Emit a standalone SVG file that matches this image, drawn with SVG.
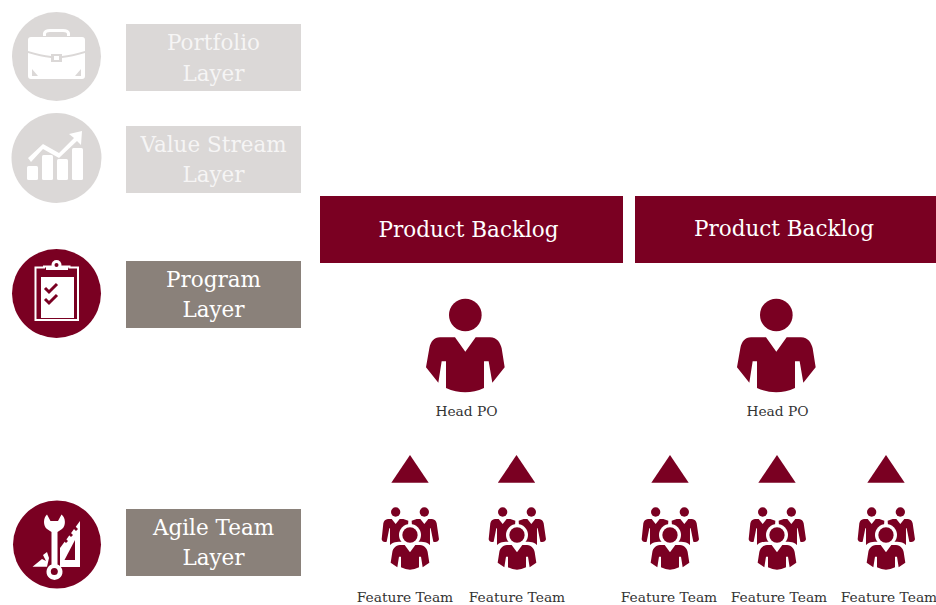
<svg xmlns="http://www.w3.org/2000/svg" width="936" height="605" viewBox="0 0 936 605">
<style>
text{font-family:"DejaVu Serif","Liberation Serif",serif;text-anchor:middle}
.lt{fill:#dbd8d7}.dk{fill:#8a817a}.mr{fill:#7a0022}
.lab{font-size:21.5px;fill:#fff}
.faint{fill-opacity:.75}
.pb{font-size:21.5px;fill:#fff}
.sm{font-size:13.8px;fill:#333}
.w{fill:#fff}
</style>
<defs>
<g id="person"><circle cx="166" cy="75" r="49"/><path d="M90 142H135L166 185L197 142H240C262 142 271 160 275 175L284 232L247 278L236 214H222V294Q166 320 108 294V214H95L85 278L48 232L58 175C62 155 72 142 90 142Z"/></g>
<g id="team">
<circle cx="137" cy="186" r="14"/><path d="M114 207H125L137 222L149 207H160L175 212L172 262L158 285H120L120 235H118L110 275C102 278 96 274 95 268L100 220C102 212 106 208 114 207Z"/>
<circle cx="223" cy="186" r="14"/><path d="M200 207H211L223 222L235 207H246C254 208 258 212 260 220L267 268C266 274 258 278 250 275L242 235H240V285H202L188 262L185 212Z"/>
<path class="w" d="M115 300C118 280 130 276 146 275H214C230 276 242 280 245 300L250 350H110Z"/>
<circle class="w" cx="180" cy="255" r="33"/>
<circle cx="180" cy="255" r="23"/>
<path d="M150 285H164L180 307L196 285H210C224 286 231 296 233 306L238 338L218 352L213 320H207V352Q180 366 153 352V320H147L142 352L122 338L127 306C129 296 136 286 150 285Z"/>
</g>
<path id="tri" d="M0 0L18.700 27.700H-18.700Z"/>
</defs>

<g id="portfolio-icon"><circle class="lt" cx="56.500" cy="56.500" r="44.500"/>
<path class="w" d="M43 36V33Q44 29 50 29H63Q69 29 70 33V36H67V34Q67 32 63 32H50Q46 32 46 34V36Z"/>
<path class="w" d="M31 37H82Q85 37 85 40V51Q72 55 62 56V54H51V56Q41 55 28 51V40Q28 37 31 37Z"/>
<path class="w" d="M28 53Q41 57 51 58V62H62V58Q72 57 85 53V76Q85 79 82 79H31Q28 79 28 76Z"/>
<path class="lt" d="M32 69L38 76H32ZM81 69L75 76H81Z"/>
<rect class="w" x="54" y="56" width="5" height="4"/></g>
<g id="portfolio-label"><rect class="lt" x="126" y="24" width="175" height="67"/><text class="lab faint" x="213.500" y="50">Portfolio</text><text class="lab faint" x="213.500" y="81">Layer</text></g>

<g id="value-icon"><circle class="lt" cx="56.500" cy="158" r="45"/>
<path class="w" d="M28 158L43 144L59 153L74 138L69 134L82 131L81 145L77 141L59 158L43 149L31 162Z"/>
<rect class="w" x="27" y="166" width="11" height="14" rx="1.500"/><rect class="w" x="42" y="155" width="11" height="25" rx="1.500"/><rect class="w" x="57" y="159" width="11" height="21" rx="1.500"/><rect class="w" x="72" y="148" width="11" height="32" rx="1.500"/></g>
<g id="value-label"><rect class="lt" x="126" y="126" width="175" height="67"/><text class="lab faint" x="213.500" y="152">Value Stream</text><text class="lab faint" x="213.500" y="182">Layer</text></g>

<g id="program-icon"><circle class="mr" cx="56.500" cy="293.500" r="44.500"/>
<path d="M44 266.500H69.500V267.500H78V320H35.500V267.500H44Z" fill="none" stroke="#fff" stroke-width="2"/>
<path class="w" d="M41 277H45H68H74V318H41Z"/>
<path class="w" d="M46 266.500H68V270H46Z"/>
<circle class="w" cx="56.500" cy="265" r="5"/><circle class="mr" cx="56.500" cy="265" r="2"/>
<path d="M45 288L49 292L57 284M45 299L49 303L57 295" fill="none" stroke="#7a0022" stroke-width="3"/></g>
<g id="program-label"><rect class="dk" x="126" y="261" width="175" height="67"/><text class="lab" x="213.500" y="287">Program</text><text class="lab" x="213.500" y="317">Layer</text></g>

<g id="agile-icon"><circle class="mr" cx="57" cy="544.500" r="44"/>
<path class="w" d="M80 521V567H60V548Z"/>
<path class="mr" d="M75 540V560H64.500Z"/>
<path class="mr" d="M65 538l3 3-2 2-3-3zM70 532l3 3-2 2-3-3zM75 526l3 3-2 2-3-3z"/>
<path class="w" d="M47 514.500L50.500 521H58L61.500 514.500C66 518 66 526 62 529L57.500 532V564.500A8 8 0 1 1 51.500 564.500V532L47 529C43 526 43 518 47 514.500Z"/>
<circle class="mr" cx="54.300" cy="571.500" r="3.500"/>
<path class="w" d="M32.500 566.700L42 559L46 561L43 555L47 552L49 558L47 566.700Z"/></g>
<g id="agile-label"><rect class="dk" x="126" y="509" width="175" height="67"/><text class="lab" x="213.500" y="535">Agile Team</text><text class="lab" x="213.500" y="565">Layer</text></g>

<g id="backlog-1"><rect class="mr" x="320" y="196" width="303" height="67"/><text class="pb" x="468.500" y="236.500">Product Backlog</text></g>
<g id="backlog-2"><rect class="mr" x="635" y="196" width="301" height="67"/><text class="pb" x="784" y="235.500">Product Backlog</text></g>

<g id="head-po-1"><use class="mr" href="#person" transform="translate(410 290) scale(.3333)"/><text class="sm" x="466.500" y="416">Head PO</text></g>
<g id="head-po-2"><use class="mr" href="#person" transform="translate(721 290) scale(.3333)"/><text class="sm" x="777.500" y="416">Head PO</text></g>

<g id="connectors" class="mr">
<use href="#tri" x="410" y="455"/><use href="#tri" x="516.500" y="455"/><use href="#tri" x="670" y="455"/><use href="#tri" x="777" y="455"/><use href="#tri" x="886" y="455"/>
</g>

<g id="team-1"><use class="mr" href="#team" transform="translate(350 450) scale(.3333)"/><text class="sm" x="405" y="602">Feature Team</text></g>
<g id="team-2"><use class="mr" href="#team" transform="translate(457 450) scale(.3333)"/><text class="sm" x="517" y="602">Feature Team</text></g>
<g id="team-3"><use class="mr" href="#team" transform="translate(610 450) scale(.3333)"/><text class="sm" x="669" y="602">Feature Team</text></g>
<g id="team-4"><use class="mr" href="#team" transform="translate(717 450) scale(.3333)"/><text class="sm" x="779" y="602">Feature Team</text></g>
<g id="team-5"><use class="mr" href="#team" transform="translate(826 450) scale(.3333)"/><text class="sm" x="889" y="602">Feature Team</text></g>
</svg>
